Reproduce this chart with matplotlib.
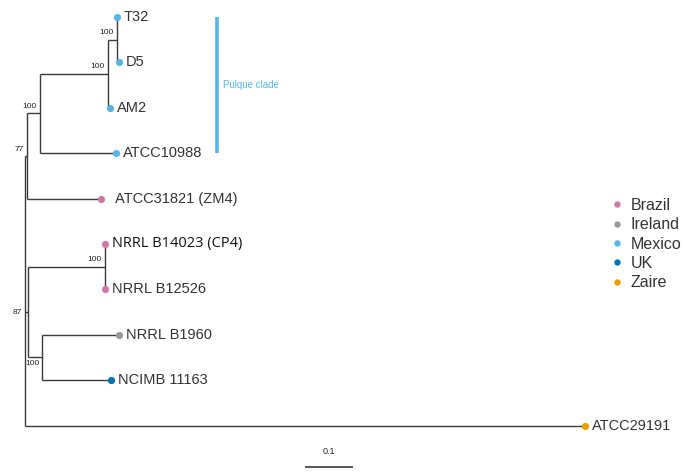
import numpy as np
import matplotlib.pyplot as plt
from matplotlib.lines import Line2D

plt.rcParams.update({
    "font.family": ["Liberation Sans", "DejaVu Sans"],
    "figure.dpi": 100,
})

# ── Tree data (branch-length units, root = 0) ───────────────────
TIPS = ["T32", "D5", "AM2", "ATCC10988", "ATCC31821 (ZM4)",
        "NRRL B14023 (CP4)", "NRRL B12526", "NRRL B1960",
        "NCIMB 11163", "ATCC29191"]
TIP_DEPTH = [0.193, 0.197, 0.179, 0.190, 0.159,
             0.168, 0.168, 0.197, 0.180, 1.168]
TIP_COUNTRY = ["Mexico", "Mexico", "Mexico", "Mexico", "Brazil",
               "Brazil", "Brazil", "Ireland", "UK", "Zaire"]
TIP_PARENT = ["n1", "n1", "n2", "n3", "n4", "n6", "n6", "n7", "n7", "root"]

NODES = ["n1", "n2", "n3", "n4", "n5", "n6", "n7", "root"]
NODE_DEPTH = [0.193, 0.174, 0.032, 0.005, 0.007, 0.168, 0.036, 0.0]
NODE_PARENT = ["n2", "n3", "n4", "root", "root", "n5", "n5", None]
NODE_SUPPORT = [100, 100, 100, 77, 87, 100, 100, None]

COUNTRIES = ["Brazil", "Ireland", "Mexico", "UK", "Zaire"]
COUNTRY_COLORS = ["#CC79A7", "#999999", "#56B4E9", "#0072B2", "#E69F00"]

CLADE_NAME = "Pulque clade"
CLADE_TIPS = ["T32", "ATCC10988"]
SCALE_LEN = 0.1

# ── Layout helpers ──────────────────────────────────────────────
color_of = dict(zip(COUNTRIES, COUNTRY_COLORS))
depth = dict(zip(NODES, NODE_DEPTH))
depth.update(zip(TIPS, TIP_DEPTH))
parent = dict(zip(NODES, NODE_PARENT))
parent.update(zip(TIPS, TIP_PARENT))

children = {n: [] for n in NODES}
for name in TIPS + NODES:
    if parent[name] is not None:
        children[parent[name]].append(name)

ypos = {t: i for i, t in enumerate(TIPS)}


def node_y(n):
    if n in ypos:
        return ypos[n]
    ys = [node_y(c) for c in children[n]]
    ypos[n] = (min(ys) + max(ys)) / 2
    return ypos[n]


for n in NODES:
    node_y(n)

LINE = "#3a3a3a"
TEXT = "#333333"

fig = plt.figure(figsize=(6.86, 4.72))
ax = fig.add_axes([0, 0, 1, 1])
ax.set_xlim(-24.5 / 480, (686 - 24.5) / 480)
ax.set_ylim((472 - 17) / 45.4, -17 / 45.4)
ax.axis("off")

# branches
for name in TIPS + NODES:
    p = parent[name]
    if p is not None:
        ax.plot([depth[p], depth[name]], [ypos[name], ypos[name]],
                color=LINE, lw=1.0, solid_capstyle="butt", zorder=1)
for n in NODES:
    ys = [ypos[c] for c in children[n]]
    ax.plot([depth[n], depth[n]], [min(ys), max(ys)],
            color=LINE, lw=1.0, solid_capstyle="butt", zorder=1)

# tips
label_pad = {"ATCC31821 (ZM4)": 10}
for t, d, c in zip(TIPS, TIP_DEPTH, TIP_COUNTRY):
    ax.plot(d, ypos[t], "o", ms=5.2, color=color_of[c], mec="none", zorder=3)
    bold = t == "NRRL B14023 (CP4)"
    ax.annotate(t, (d, ypos[t]), xytext=(label_pad.get(t, 5), 0),
                textcoords="offset points", ha="left", va="center",
                fontsize=10.5, color="#111111" if bold else TEXT,
                fontfamily=["Open Sans"] if bold else None)

# support values
support_pos = {"n5": ((-4.5, 0), "right", "center"),
               "n7": ((-1.5, -1.5), "right", "top")}
for n, s in zip(NODES, NODE_SUPPORT):
    if s is None:
        continue
    off, ha, va = support_pos.get(n, ((-2.5, 2.5), "right", "bottom"))
    ax.annotate(str(s), (depth[n], ypos[n]), xytext=off,
                textcoords="offset points", ha=ha, va=va,
                fontsize=6, color="#222222")

# clade bar
bar_x = 0.40
y0, y1 = ypos[CLADE_TIPS[0]], ypos[CLADE_TIPS[1]]
ax.plot([bar_x, bar_x], [y0, y1], color="#56B4E9", lw=2.6,
        solid_capstyle="butt")
ax.annotate(CLADE_NAME, (bar_x, (y0 + y1) / 2), xytext=(4.5, 0),
            textcoords="offset points", ha="left", va="center",
            fontsize=7, color="#56B4E9")

# scale bar
sb_x0, sb_y = 0.584, 9.91
ax.plot([sb_x0, sb_x0 + SCALE_LEN], [sb_y, sb_y], color="#555555", lw=1.4,
        solid_capstyle="butt")
ax.text(sb_x0 + SCALE_LEN / 2, sb_y - 0.33, f"{SCALE_LEN:g}", ha="center",
        va="center", fontsize=6.5, color="#222222")

# legend
handles = [Line2D([], [], ls="none", marker="o", ms=4.6, mec="none",
                  color=col, label=c)
           for c, col in zip(COUNTRIES, COUNTRY_COLORS)]
ax.legend(handles=handles, loc="upper left",
          bbox_to_anchor=(599 / 686, 1 - 190 / 472), frameon=False,
          fontsize=11.5, labelspacing=0.27, handletextpad=0.2,
          handlelength=1.3, borderpad=0, labelcolor=TEXT)

fig.savefig("out.png", dpi=100)
